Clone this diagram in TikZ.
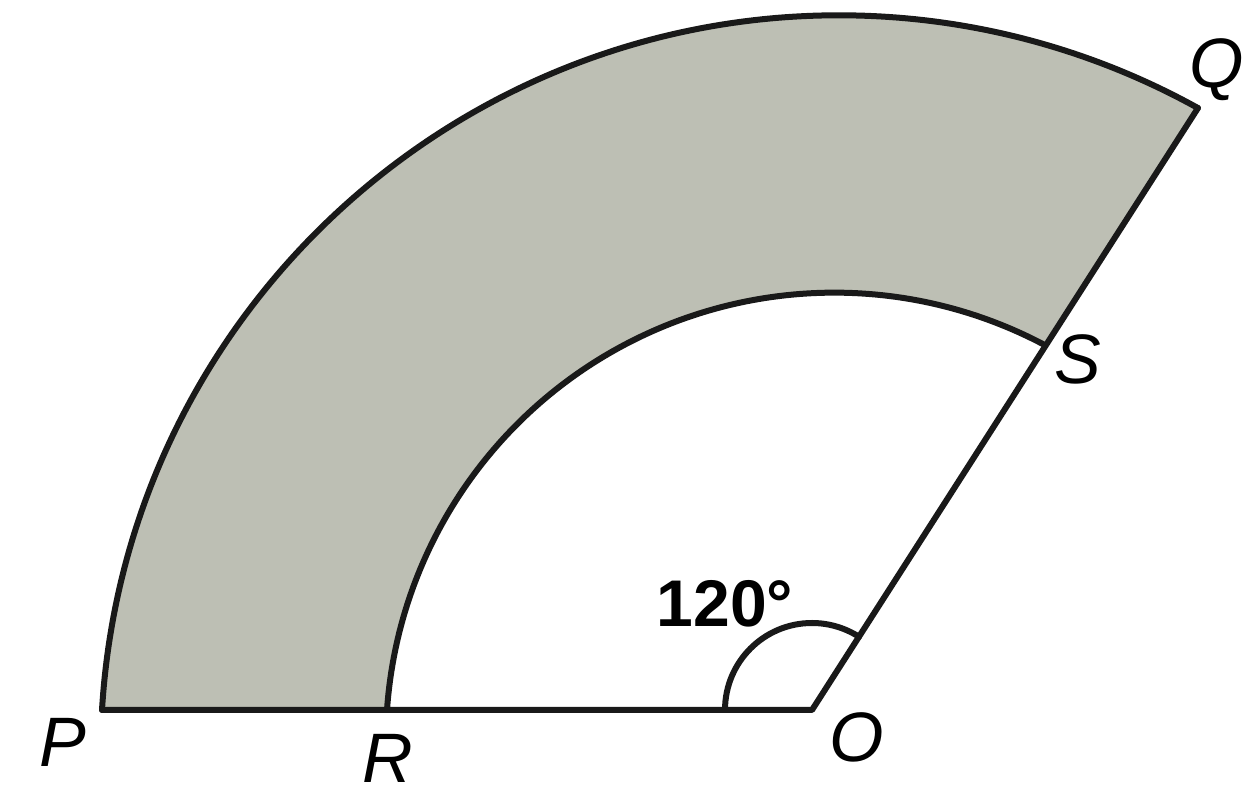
\documentclass[tikz,border=0pt]{standalone}
\usepackage{fontspec}
\setmainfont{Liberation Sans}
\definecolor{ringfill}{RGB}{189,191,180}
\tikzset{
  edge/.style={line width=6pt, line join=round, line cap=round, black!90},
  lbl/.style={inner sep=0pt, anchor=center, font=\fontsize{70}{70}\selectfont\itshape},
  anglbl/.style={inner sep=0pt, anchor=center, font=\fontsize{66}{66}\selectfont\bfseries}
}
\begin{document}
\begin{tikzpicture}[x=1pt,y=1pt]
\useasboundingbox (0,0) rectangle (1246,799);
\coordinate (O) at (812,89);
\coordinate (P) at (102,89);
\coordinate (R) at (387,89);
\coordinate (Q) at (1198,691);
\coordinate (S) at (1043,455);
% shaded ring sector
\fill[ringfill] (P) -- (R) arc[start angle=176.02, end angle=62.28, radius=448.5pt] -- (Q)
  arc[start angle=60.99, end angle=176.57, radius=738.9pt] -- cycle;
% outlines
\draw[edge] (P) -- (O) -- (Q);
\draw[edge] (P) arc[start angle=176.57, end angle=60.99, radius=738.9pt];
\draw[edge] (R) arc[start angle=176.02, end angle=62.28, radius=448.5pt];
% angle mark
\draw[edge] ([xshift=-87pt]O) arc[start angle=180, end angle=57.3, radius=87pt];
% labels
\node[lbl] (lP) at (63,57) {P};
\node[lbl] (lR) at (388,41) {R};
\node[lbl] (lO) at (857,62) {O};
\node[lbl, anchor=east] (lQ) at (1244,729) {Q};
\node[lbl] (lS) at (1078,440) {S};
\node[anglbl] (ang) at (725,195) {120°};
\end{tikzpicture}
\end{document}
